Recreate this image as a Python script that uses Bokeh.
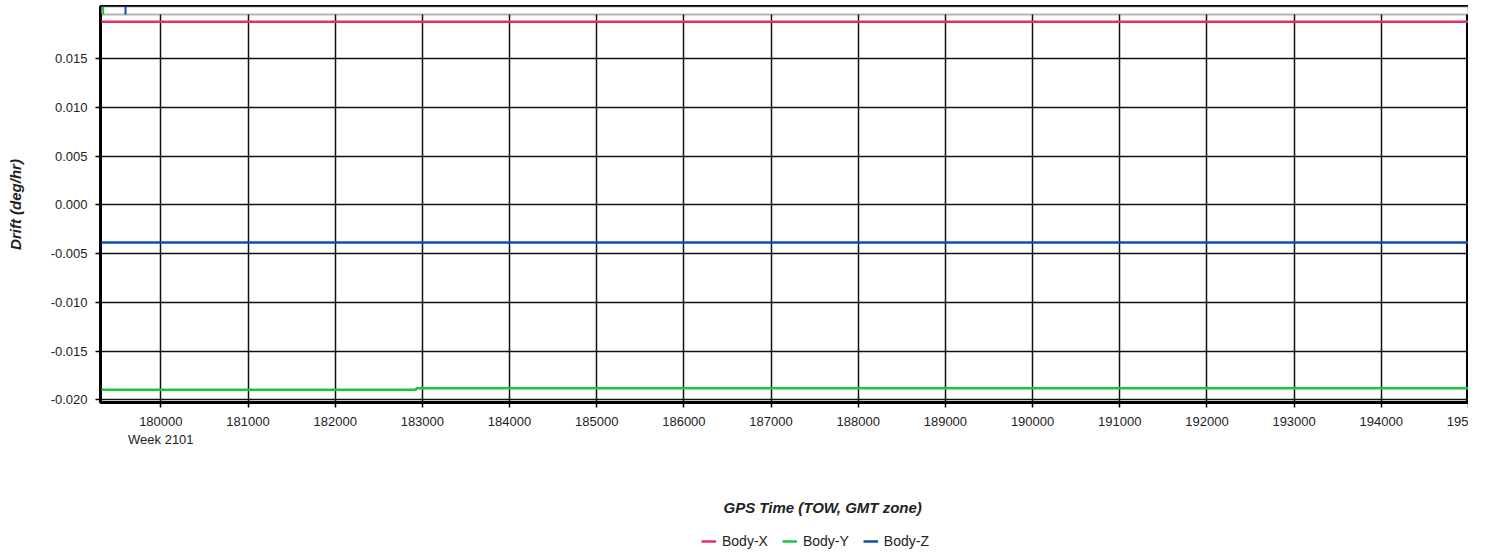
from bokeh.plotting import figure
from bokeh.layouts import column
from bokeh.models import (Range1d, BoxAnnotation, Legend, LegendItem, Title,
                          NumeralTickFormatter, BasicTickFormatter, FixedTicker)
from bokeh.embed import file_html
from bokeh.resources import INLINE

# ---- data ----
x_range_vals = [179308, 195000.5]
y_range_vals = [-0.02028, 0.02036]
x_ticks = [180000, 181000, 182000, 183000, 184000, 185000, 186000, 187000,
           188000, 189000, 190000, 191000, 192000, 193000, 194000, 195000]
y_ticks = [-0.020, -0.015, -0.010, -0.005, 0.000, 0.005, 0.010, 0.015]
week_label = "Week 2101"
last_tick_text = "195"          # last tick label is cut at the chart edge

body_x_t = [179300, 195100]
body_x = [0.01879, 0.01879]
body_y_t = [179300, 182930, 195100]
body_y = [-0.01897, -0.01881, -0.01881]
body_z_t = [179300, 195100]
body_z = [-0.00385, -0.00385]

strip_floor = 0.01954          # value of the separator line under the top strip
spike_y_t = [179339]           # Body-Y start spike (shown in top strip)
spike_z_t = [179595]           # Body-Z spike (shown in top strip)

series_names = ["Body-X", "Body-Y", "Body-Z"]
x_title = "GPS Time (TOW, GMT zone)"
y_title = "Drift (deg/hr)"

RED = "#e2335f"
GREEN = "#1fc43e"
BLUE = "#0b4fb0"
FONT = "Liberation Sans"
TXT = "#222222"

W = 1468
p = figure(width=W, height=470, output_backend="svg", toolbar_location=None,
           x_range=Range1d(*x_range_vals), y_range=Range1d(*y_range_vals),
           min_border_left=100, min_border_right=0, min_border_top=6,
           min_border_bottom=68)
p.background_fill_color = "white"
p.border_fill_color = "white"
p.outline_line_color = "black"
p.outline_line_width = 3

# grids
for g in (p.xgrid, p.ygrid):
    g.grid_line_color = "#111111"
    g.grid_line_width = 1.5
p.xaxis.ticker = FixedTicker(ticks=x_ticks)
p.yaxis.ticker = FixedTicker(ticks=y_ticks)

# top strip covering grid
strip = BoxAnnotation(bottom=strip_floor, fill_color="white", fill_alpha=1.0,
                      line_color="black", line_width=2, level="underlay")
p.add_layout(strip)

# axes
for ax in (p.xaxis, p.yaxis):
    ax.axis_line_color = "black"
    ax.axis_line_width = 2
    ax.major_tick_line_color = "black"
    ax.major_tick_line_width = 1.5
    ax.major_tick_in = 0
    ax.major_tick_out = 5
    ax.minor_tick_line_color = None
    ax.major_label_text_font = FONT
    ax.major_label_text_font_size = "13px"
    ax.major_label_text_color = TXT
    ax.axis_label_text_font = FONT
    ax.axis_label_text_font_size = "15px"
    ax.axis_label_text_font_style = "bold italic"
    ax.axis_label_text_color = TXT

p.xaxis.formatter = BasicTickFormatter(use_scientific=False)
p.xaxis.major_label_overrides = {x_ticks[0]: str(x_ticks[0]) + "\n" + week_label,
                                 x_ticks[-1]: last_tick_text}
p.xaxis.major_label_standoff = 6

p.yaxis.formatter = NumeralTickFormatter(format="0.000")
p.yaxis.major_label_standoff = 8
p.yaxis.axis_label = y_title
p.yaxis.axis_label_standoff = 24

# series
rx = p.line(body_x_t, body_x, line_color=RED, line_width=2.5)
ry = p.step(body_y_t, body_y, mode="after", line_color=GREEN, line_width=2.5)
rz = p.line(body_z_t, body_z, line_color=BLUE, line_width=2.5)

# spikes in top strip
p.segment(x0=spike_y_t, y0=[strip_floor] * len(spike_y_t), x1=spike_y_t,
          y1=[y_range_vals[1]] * len(spike_y_t), line_color=GREEN, line_width=2)
p.segment(x0=spike_z_t, y0=[strip_floor] * len(spike_z_t), x1=spike_z_t,
          y1=[y_range_vals[1]] * len(spike_z_t), line_color=BLUE, line_width=2)

# x-axis title + legend strip below (separate small figure; its series data lies outside its view)
lf = figure(width=W, height=82, output_backend="svg", toolbar_location=None,
            x_range=Range1d(0, 1), y_range=Range1d(0, 1),
            min_border_left=100, min_border_right=0, min_border_top=50,
            min_border_bottom=0)
lf.title = Title(text=x_title, align="left", offset=623, standoff=9,
                 text_font=FONT, text_font_size="15px",
                 text_font_style="bold italic", text_color=TXT)
lf.axis.visible = False
lf.grid.visible = False
lf.outline_line_color = None
lf.background_fill_color = "white"
lf.border_fill_color = "white"
lx = lf.line(body_x_t, body_x, line_color=RED, line_width=2.5)
ly = lf.line(body_y_t, body_y, line_color=GREEN, line_width=2.5)
lz = lf.line(body_z_t, body_z, line_color=BLUE, line_width=2.5)
legend = Legend(items=[LegendItem(label=series_names[0], renderers=[lx]),
                       LegendItem(label=series_names[1], renderers=[ly]),
                       LegendItem(label=series_names[2], renderers=[lz])],
                orientation="horizontal", location=(599, 1),
                border_line_alpha=0, background_fill_alpha=0,
                label_text_font=FONT, label_text_font_size="14px",
                label_text_color=TXT,
                glyph_width=15, glyph_height=14, label_standoff=6, spacing=14,
                padding=2, margin=0)
lf.add_layout(legend)

layout = column(p, lf, spacing=0)
open("out.html", "w").write(file_html(layout, INLINE))
